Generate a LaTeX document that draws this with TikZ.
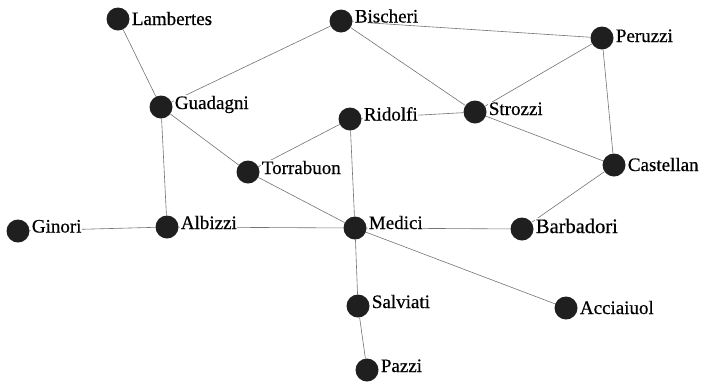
\documentclass[tikz,border=0pt]{standalone}
\usepackage{fontspec}
\setmainfont{Liberation Serif}[FakeBold=0.5]
\usetikzlibrary{backgrounds}
\tikzset{
	famlabel/.style={fill=white,inner sep=0.5pt,label distance=1.5pt,font=\fontsize{19}{20}\selectfont},
	biglabel/.style={famlabel,font=\fontsize{20.5}{22}\selectfont},
	fam/.style n args={2}{circle,fill=black!88,minimum size=23pt,inner sep=0pt,
		label={[famlabel,anchor=base west,yshift=-#2pt]east:#1}},
	bigfam/.style n args={2}{circle,fill=black!88,minimum size=23pt,inner sep=0pt,
		label={[biglabel,anchor=base west,yshift=-#2pt]east:#1}},
	tie/.style={draw=black!55,line width=0.6pt}
}
\begin{document}
\begin{tikzpicture}[x=1pt,y=-1pt]
			\useasboundingbox (0,0) rectangle (702,384);
			\node[fam={Lambertes}{6}] (lamb) at (118,19) {};
			\node[fam={Bischeri}{1.5}] (bisc) at (341,21) {};
			\node[fam={Peruzzi}{4}] (peru) at (602,38) {};
			\node[fam={Guadagni}{2}] (guad) at (161,107) {};
			\node[fam={Ridolfi}{1.5}] (rido) at (350,119) {};
			\node[fam={Strozzi}{3}] (stro) at (475,112) {};
			\node[fam={Torrabuon}{2}] (torn) at (248,172) {};
			\node[fam={Castellan}{6}] (cast) at (614,165) {};
			\node[fam={Ginori}{1.5}] (gino) at (18,231) {};
			\node[fam={Albizzi}{2}] (albi) at (167,227) {};
			\node[fam={Medici}{1}] (medi) at (355,228) {};
			\node[bigfam={Barbadori}{4}] (barb) at (522,229) {};
			\node[fam={Salviati}{2}] (salv) at (358,306) {};
			\node[fam={Acciaiuol}{6}] (acci) at (566,308) {};
			\node[fam={Pazzi}{2}] (pazz) at (367,370) {};
			\begin{pgfonlayer}{background}
			\draw[tie] (lamb) -- (guad);
			\draw[tie] (guad) -- (bisc);
			\draw[tie] (guad) -- (albi);
			\draw[tie] (guad) -- (torn);
			\draw[tie] (torn) -- (rido);
			\draw[tie] (torn) -- (medi);
			\draw[tie] (bisc) -- (peru);
			\draw[tie] (bisc) -- (stro);
			\draw[tie] (rido) -- (stro);
			\draw[tie] (rido) -- (medi);
			\draw[tie] (stro) -- (peru);
			\draw[tie] (stro) -- (cast);
			\draw[tie] (peru) -- (cast);
			\draw[tie] (cast) -- (barb);
			\draw[tie] (gino) -- (albi);
			\draw[tie] (albi) -- (medi);
			\draw[tie] (medi) -- (barb);
			\draw[tie] (medi) -- (salv);
			\draw[tie] (medi) -- (acci);
			\draw[tie] (salv) -- (pazz);
			\end{pgfonlayer}
		\end{tikzpicture}
\end{document}
